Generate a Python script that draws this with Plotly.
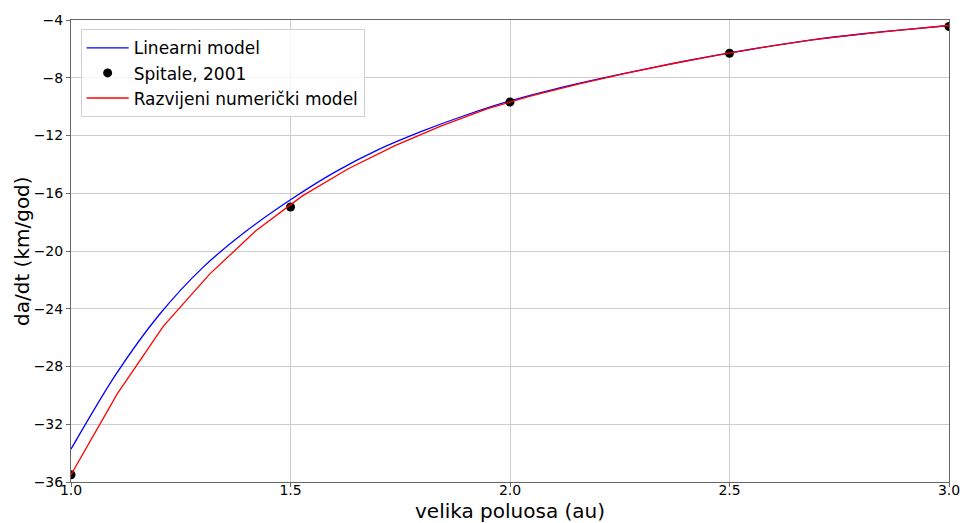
import plotly.graph_objects as go

# Linear model (smooth curve), sampled every 0.1 au
lin_a = [1.0, 1.1, 1.2, 1.3, 1.4, 1.5, 1.6, 1.7, 1.8, 1.9, 2.0,
         2.1, 2.2, 2.3, 2.4, 2.5, 2.6, 2.7, 2.8, 2.9, 3.0]
lin_dadt = [-33.72, -28.65, -24.45, -21.15, -18.6, -16.45, -14.55, -12.98, -11.7, -10.58, -9.6,
            -8.8, -8.1, -7.45, -6.84, -6.28, -5.78, -5.33, -4.97, -4.66, -4.38]

# Spitale, 2001 reference values
sp_a = [1.0, 1.5, 2.0, 2.5, 3.0]
sp_dadt = [-35.5, -16.95, -9.68, -6.3, -4.45]

# Developed numerical model, 20 evaluation points
num_a = [1.0, 1.1053, 1.2105, 1.3158, 1.4211, 1.5263, 1.6316, 1.7368, 1.8421, 1.9474,
         2.0526, 2.1579, 2.2632, 2.3684, 2.4737, 2.5789, 2.6842, 2.7895, 2.8947, 3.0]
num_dadt = [-35.5, -29.9, -25.2, -21.6, -18.6, -16.2, -14.3, -12.72, -11.35, -10.15,
            -9.22, -8.42, -7.69, -7.03, -6.43, -5.88, -5.4, -5.01, -4.68, -4.38]

x_ticks = [1.0, 1.5, 2.0, 2.5, 3.0]
y_ticks = [-36, -32, -28, -24, -20, -16, -12, -8, -4]

font = "DejaVu Sans, Verdana, sans-serif"

fig = go.Figure()
fig.add_trace(go.Scatter(x=lin_a, y=lin_dadt, mode="lines", name="Linearni model",
                         line=dict(color="blue", width=1.3, shape="spline", smoothing=0.8)))
fig.add_trace(go.Scatter(x=sp_a, y=sp_dadt, mode="markers", name="Spitale, 2001",
                         marker=dict(color="black", size=9)))
fig.add_trace(go.Scatter(x=num_a, y=num_dadt, mode="lines", name="Razvijeni numerički model",
                         line=dict(color="red", width=1.3)))

axis_common = dict(showgrid=True, gridcolor="#cccccc", gridwidth=1,
                   showline=True, linecolor="#666666", linewidth=1, mirror=True,
                   ticks="outside", ticklen=4, tickcolor="#666666",
                   tickfont=dict(size=14, color="black", family=font),
                   zeroline=False, automargin=False)

fig.update_layout(
    width=962, height=523,
    margin=dict(l=71, r=13, t=20, b=41),
    paper_bgcolor="white", plot_bgcolor="white",
    font=dict(family=font, color="black"),
    xaxis=dict(range=[1.0, 3.0], tickvals=x_ticks, ticktext=[f"{v:.1f}" for v in x_ticks],
               ticklabelstandoff=-9, **axis_common),
    yaxis=dict(range=[-36, -4], tickvals=y_ticks, **axis_common),
    legend=dict(x=0.011, y=0.98, xanchor="left", yanchor="top",
                bgcolor="rgba(255,255,255,0.8)", bordercolor="#d0d0d0", borderwidth=1,
                font=dict(size=17, family=font), tracegroupgap=0, itemwidth=42),
    showlegend=True,
    annotations=[
        dict(text="velika poluosa (au)", xref="paper", yref="paper",
             x=0.5, y=-29 / 462, xanchor="center", yanchor="middle", borderpad=0,
             showarrow=False, font=dict(size=20, family=font)),
        dict(text="da/dt (km/god)", xref="paper", yref="paper",
             x=-49 / 878, y=0.5, xanchor="center", yanchor="middle", textangle=-90,
             showarrow=False, font=dict(size=20, family=font)),
    ],
)

fig.write_html("out.html")
